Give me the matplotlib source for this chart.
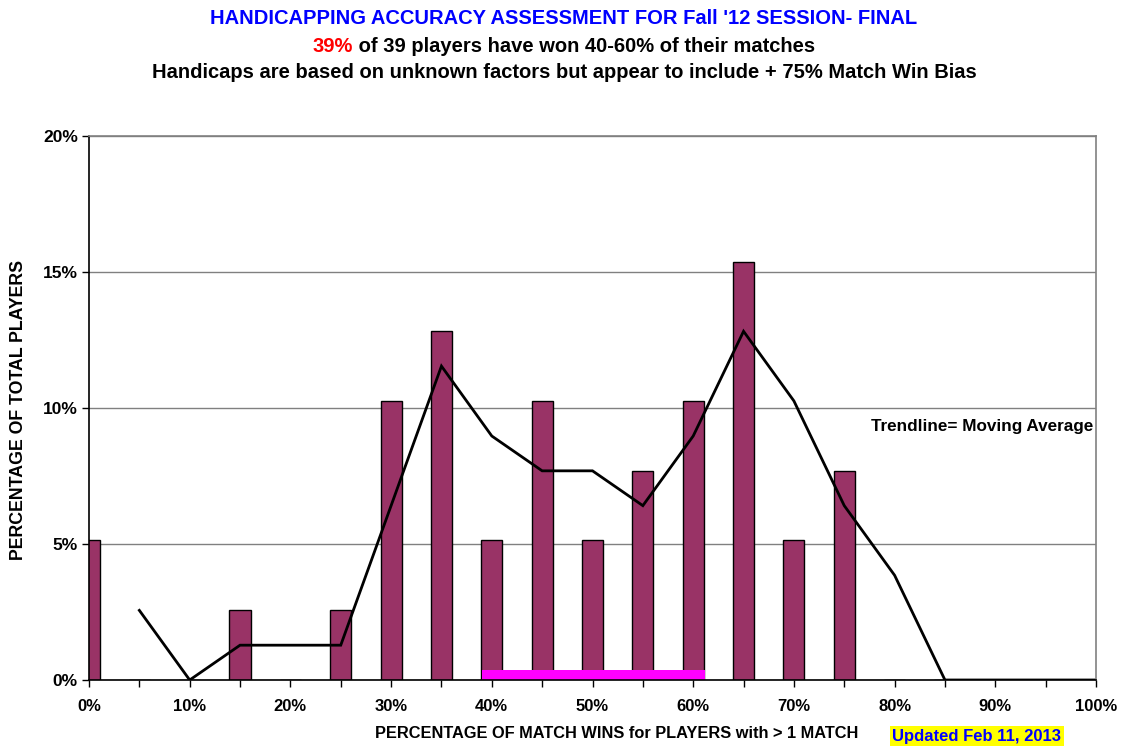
import matplotlib
matplotlib.use("Agg")
import matplotlib.pyplot as plt
import numpy as np

plt.rcParams['font.family'] = ['Liberation Sans', 'DejaVu Sans']
plt.rcParams['font.weight'] = 'bold'

# Data
win_pct = [0, 5, 10, 15, 20, 25, 30, 35, 40, 45, 50, 55, 60, 65, 70, 75, 80, 85, 90, 95, 100]
player_pct = [5.13, 0, 0, 2.56, 0, 2.56, 10.26, 12.82, 5.13, 10.26, 5.13, 7.69, 10.26,
              15.38, 5.13, 7.69, 0, 0, 0, 0, 0]
trend_x = [5, 10, 15, 20, 25, 30, 35, 40, 45, 50, 55, 60, 65, 70, 75, 80, 85, 90, 95, 100]
trend_y = [2.56, 0, 1.28, 1.28, 1.28, 6.41, 11.54, 8.97, 7.69, 7.69, 6.41, 8.97, 12.82,
           10.26, 6.41, 3.85, 0, 0, 0, 0]
band_range = [39, 61.2]
x_ticks = [0, 10, 20, 30, 40, 50, 60, 70, 80, 90, 100]
y_ticks = [0, 5, 10, 15, 20]

TITLE_FS = 14.5

fig = plt.figure(figsize=(11.28, 7.47), dpi=100)
ax = fig.add_axes([89/1128, 1-680/747, (1096-89)/1128, (680-136)/747])

ax.bar(win_pct, player_pct, width=2.1, color='#993366', edgecolor='black', linewidth=1.0, zorder=3)
ax.plot(trend_x, trend_y, color='black', linewidth=2.0, zorder=4, solid_joinstyle='miter')
ax.bar([(band_range[0]+band_range[1])/2], [0.36], width=band_range[1]-band_range[0],
       bottom=0, color='#FF00FF', linewidth=0, zorder=5)

ax.set_xlim(0, 100)
ax.set_ylim(0, 20)
ax.set_xticks(x_ticks)
ax.set_xticklabels([f"{t}%" for t in x_ticks])
ax.set_xticks(np.arange(5, 100, 10), minor=True)
ax.set_yticks(y_ticks)
ax.set_yticklabels([f"{t}%" for t in y_ticks])
ax.tick_params(axis='x', labelsize=12, direction='out', length=5, width=1, pad=9)
ax.tick_params(axis='y', labelsize=12.5, direction='out', length=5, width=1, pad=3)
ax.tick_params(axis='x', which='minor', direction='out', length=5, width=1)
for lbl in ax.get_xticklabels() + ax.get_yticklabels():
    lbl.set_fontweight('bold')

ax.grid(axis='y', color='#808080', linewidth=1.0, zorder=0)
ax.spines['left'].set_color('black')
ax.spines['bottom'].set_color('black')
ax.spines['top'].set_color('#808080')
ax.spines['right'].set_color('#808080')
for s in ax.spines.values():
    s.set_linewidth(1.2)
    s.set_zorder(6)

fig.text(19/1128, 1-410/747, "PERCENTAGE OF TOTAL PLAYERS", rotation=90,
         ha='center', va='center', fontsize=12.8, fontweight='bold')
fig.text(617/1128, 1-734/747, "PERCENTAGE OF MATCH WINS for PLAYERS with > 1 MATCH",
         ha='center', va='center', fontsize=11.8, fontweight='bold')
fig.text(977/1128, 1-736/747, "Updated Feb 11, 2013", ha='center', va='center',
         fontsize=12, fontweight='bold', color='#0000FF',
         bbox=dict(facecolor='#FFFF00', edgecolor='none', pad=2))
ax.text(99.7, 9.33, "Trendline= Moving Average", ha='right', va='center',
        fontsize=12.3, fontweight='bold', zorder=7)

fig.text(0.5, 1-19/747, "HANDICAPPING ACCURACY ASSESSMENT FOR Fall '12 SESSION- FINAL",
         ha='center', va='center', fontsize=TITLE_FS, fontweight='bold', color='#0000FF')
# second line with red part
line2 = " of 39 players have won 40-60% of their matches"
r = fig.canvas.get_renderer()
tmp = fig.text(0, 0, "39%" + line2, fontsize=TITLE_FS, fontweight='bold')
w_full = tmp.get_window_extent(r).width / fig.bbox.width
tmp.remove()
tmp2 = fig.text(0, 0, "39%", fontsize=TITLE_FS, fontweight='bold')
w_red = tmp2.get_window_extent(r).width / fig.bbox.width
tmp2.remove()
start = 0.5 - w_full/2
fig.text(start + w_red, 1-46/747, "39%", ha='right', va='center', fontsize=TITLE_FS,
         fontweight='bold', color='#FF0000')
fig.text(start + w_red, 1-46/747, line2, ha='left', va='center', fontsize=TITLE_FS,
         fontweight='bold', color='black')
fig.text(0.5, 1-73/747, "Handicaps are based on unknown factors but appear to include + 75% Match Win Bias",
         ha='center', va='center', fontsize=TITLE_FS, fontweight='bold', color='black')

fig.savefig("out.png", dpi=100)
